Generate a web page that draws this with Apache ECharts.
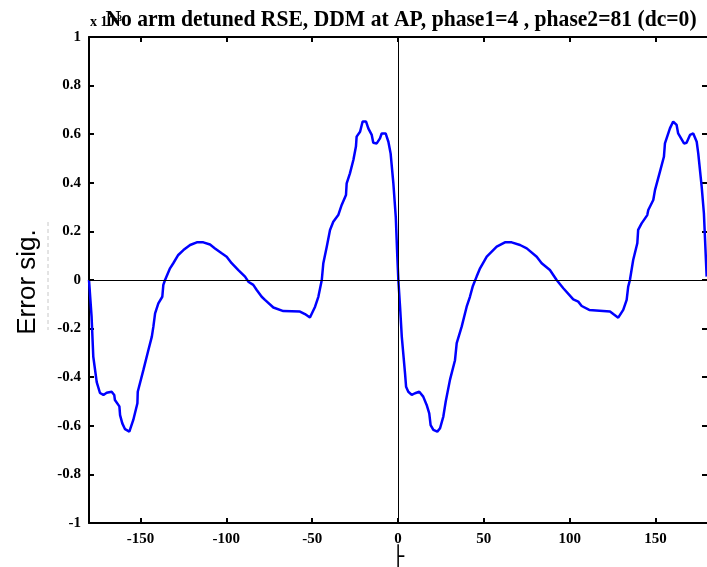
<!DOCTYPE html>
<html>
<head>
<meta charset="utf-8">
<script src="https://cdn.jsdelivr.net/npm/echarts@6/dist/echarts.min.js"></script>
<style>html,body{margin:0;padding:0;background:#fff;}#c{width:707px;height:567px;}</style>
</head>
<body>
<div id="c"></div>
<script>
const titleText = 'No arm detuned RSE, DDM at AP, phase1=4 , phase2=81 (dc=0)';
const yLabel = 'Error sig.';
const xLabel = '├';
const xTicks = [-150, -100, -50, 0, 50, 100, 150];
const phi = [
 -180.0,-178.5,-177.5,-175.5,-173.6,-171.6,-169.7,-166.8,-165.3,-164.9,-162.3,-161.9,-160.6,-159.0,-156.5,-154.2,-151.8,-151.6,-148.3,-145.4,
 -143.4,-142.5,-141.5,-139.6,-137.3,-136.7,-135.7,-132.8,-130.9,-128.0,-125.0,-121.1,-117.2,-113.4,-109.5,-106.6,-102.7,-99.8,-96.9,-93.0,
 -89.1,-87.2,-84.3,-82.3,-79.4,-77.5,-72.6,-66.8,-57.1,-54.2,-51.3,-48.3,-46.4,-44.4,-43.5,-41.5,-39.6,-37.7,-34.8,-32.8,
 -30.3,-29.9,-28.0,-26.0,-24.5,-24.1,-22.1,-20.6,-18.6,-17.3,-15.3,-14.4,-12.4,-10.5,-9.5,-7.2,-5.6,-4.3,-2.7,-1.3,
 -0.4,0.2,1.2,2.2,4.1,4.7,6.0,8.0,9.9,12.4,14.7,16.7,18.2,19.0,20.6,22.9,24.5,26.4,27.8,30.3,
 33.2,34.2,37.1,40.0,41.9,43.5,45.8,47.8,51.7,57.5,62.3,66.2,71.1,75.0,80.8,83.7,88.5,92.4,96.3,102.1,
 105.0,107.0,111.4,123.5,125.4,128.3,131.2,133.2,134.1,135.1,137.0,139.4,139.9,141.9,145.2,145.8,148.7,149.7,152.6,154.9,
 155.5,158.4,160.3,162.3,163.2,166.6,168.1,170.1,172.0,174.0,174.9,176.9,178.2,179.8
];
const errSig = [
 0,-0.15,-0.316,-0.42,-0.465,-0.473,-0.464,-0.46,-0.473,-0.494,-0.52,-0.556,-0.59,-0.614,-0.624,-0.576,-0.507,-0.46,-0.37,-0.288,
 -0.233,-0.192,-0.137,-0.096,-0.069,-0.02,0,0.048,0.069,0.103,0.123,0.144,0.155,0.155,0.146,0.13,0.11,0.096,0.069,0.041,
 0.014,-0.007,-0.02,-0.041,-0.069,-0.082,-0.113,-0.128,-0.13,-0.14,-0.154,-0.11,-0.069,0,0.069,0.137,0.206,0.24,0.267,0.309,
 0.35,0.398,0.439,0.494,0.549,0.59,0.61,0.652,0.652,0.624,0.597,0.565,0.562,0.583,0.603,0.603,0.569,0.521,0.398,0.26,
 0.096,0,-0.11,-0.233,-0.384,-0.439,-0.46,-0.473,-0.466,-0.46,-0.48,-0.514,-0.549,-0.597,-0.617,-0.624,-0.61,-0.562,-0.5,-0.41,
 -0.33,-0.26,-0.192,-0.11,-0.069,-0.027,0.014,0.048,0.096,0.137,0.155,0.155,0.144,0.13,0.096,0.069,0.041,0,-0.034,-0.08,
 -0.089,-0.107,-0.123,-0.13,-0.14,-0.155,-0.123,-0.082,-0.027,0,0.082,0.151,0.206,0.233,0.267,0.288,0.329,0.37,0.446,0.507,
 0.562,0.624,0.652,0.638,0.603,0.562,0.565,0.597,0.603,0.569,0.521,0.384,0.274,0.014
];
const points = phi.map((x, i) => [x, errSig[i]]);

const serif = '"Liberation Serif", "DejaVu Serif", serif';
const tickFont = {color: '#000', fontFamily: serif, fontWeight: 'bold', fontSize: 15};
const axisLine = {show: true, onZero: false, lineStyle: {color: '#000', width: 2}};
const tickStyle = {show: true, inside: true, length: 5, lineStyle: {color: '#000', width: 2}};

const chart = echarts.init(document.getElementById('c'), null, {renderer: 'canvas'});
chart.setOption({
  animation: false,
  backgroundColor: '#fff',
  grid: {left: 89, right: 0, top: 37, bottom: 44, containLabel: false},
  xAxis: [
    {type: 'value', min: -180, max: 180, position: 'bottom',
     axisLine: axisLine, axisTick: Object.assign({customValues: xTicks}, tickStyle),
     axisLabel: Object.assign({customValues: xTicks, margin: 9}, tickFont),
     splitLine: {show: false}},
    {type: 'value', min: -180, max: 180, position: 'top',
     axisLine: axisLine, axisTick: Object.assign({customValues: xTicks}, tickStyle),
     axisLabel: {show: false}, splitLine: {show: false}}
  ],
  yAxis: [
    {type: 'value', min: -1, max: 1, interval: 0.2, position: 'left',
     axisLine: axisLine, axisTick: tickStyle,
     axisLabel: Object.assign({margin: 8, formatter: v => String(Math.round(v * 10) / 10)}, tickFont),
     splitLine: {show: false}},
    {type: 'value', min: -1, max: 1, interval: 0.2, position: 'right',
     axisLine: {show: false, onZero: false}, axisTick: tickStyle, axisLabel: {show: false}, splitLine: {show: false}}
  ],
  series: [{
    type: 'line', data: points, showSymbol: false, symbol: 'none',
    lineStyle: {color: '#0000ff', width: 2.5}, z: 3,
    markLine: {silent: true, symbol: 'none', label: {show: false},
      lineStyle: {color: '#000', width: 1, type: 'solid'},
      data: [{yAxis: 0}, {xAxis: 0}]}
  }],
  graphic: [
    {type: 'text', left: 90, top: 14, z: 10,
     style: {text: '{a|x 10}{b|-3}', rich: {
       a: {fontFamily: serif, fontWeight: 'bold', fontSize: 14, fill: '#000'},
       b: {fontFamily: serif, fontWeight: 'bold', fontSize: 9, fill: '#000', verticalAlign: 'top', padding: [0,0,8,0]}}}},
    {type: 'text', x: 401, y: 20, z: 11, scaleX: 0.9,
     style: {text: titleText, fontFamily: serif, fontWeight: 'bold', fontSize: 24, fill: '#000', align: 'center', verticalAlign: 'middle'}},
    {type: 'text', x: 28, y: 282, rotation: Math.PI / 2, z: 10,
     style: {text: yLabel, fontFamily: '"Liberation Sans", Arial, sans-serif', fontSize: 26, fill: '#000', align: 'center', verticalAlign: 'middle'}},
    {type: 'line', z: 9, shape: {x1: 48, y1: 222, x2: 48, y2: 330},
     style: {stroke: '#c8c8c8', lineWidth: 1, lineDash: [4, 3]}},
    {type: 'text', x: 398, y: 558, z: 10,
     style: {text: xLabel, fontFamily: '"DejaVu Sans", sans-serif', fontSize: 20, fill: '#000', align: 'center', verticalAlign: 'middle'}}
  ]
});
</script>
</body>
</html>
